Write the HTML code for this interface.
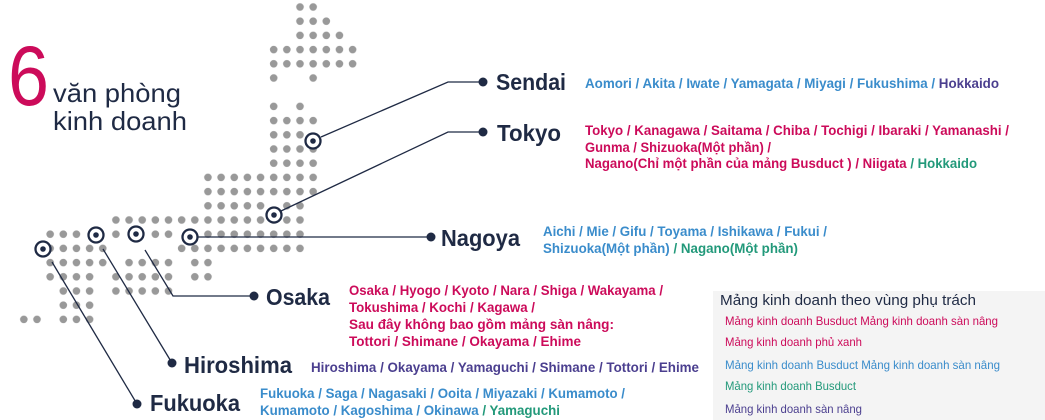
<!DOCTYPE html>
<html><head><meta charset="utf-8"><style>
html,body{margin:0;padding:0;background:#fff;}
svg{display:block;}
text{font-family:"Liberation Sans",sans-serif;}
.n{fill:#1f2a44;font-size:23px;font-weight:bold;}
.l{font-size:13.5px;font-weight:bold;}
.p{fill:#cc0b5a}.b{fill:#3a8ccb}.v{fill:#4b3f8f}.g{fill:#22997a}
.lg{font-size:12px;}
</style></head><body>
<svg width="1045" height="420" viewBox="0 0 1045 420" xmlns="http://www.w3.org/2000/svg">
<defs>
<pattern id="dp" patternUnits="userSpaceOnUse" x="-9.025" y="-0.1" width="13.15" height="14.2">
<circle cx="6.575" cy="7.1" r="3.8" fill="#999"/>
</pattern>
</defs>
<g fill="url(#dp)">
<rect x="293.4" y="-0.1" width="26.3" height="14.2"/>
<rect x="293.4" y="14.1" width="39.45" height="14.2"/>
<rect x="293.4" y="28.3" width="52.6" height="14.2"/>
<rect x="267.1" y="42.5" width="92.05" height="14.2"/>
<rect x="267.1" y="56.7" width="92.05" height="14.2"/>
<rect x="267.1" y="70.9" width="13.15" height="14.2"/>
<rect x="306.6" y="70.9" width="13.15" height="14.2"/>
<rect x="267.1" y="99.3" width="13.15" height="14.2"/>
<rect x="293.4" y="99.3" width="13.15" height="14.2"/>
<rect x="267.1" y="113.5" width="52.6" height="14.2"/>
<rect x="267.1" y="127.7" width="39.45" height="14.2"/>
<rect x="267.1" y="141.9" width="52.6" height="14.2"/>
<rect x="267.1" y="156.1" width="52.6" height="14.2"/>
<rect x="201.4" y="170.3" width="118.35" height="14.2"/>
<rect x="201.4" y="184.5" width="118.35" height="14.2"/>
<rect x="201.4" y="198.7" width="65.75" height="14.2"/>
<rect x="280.3" y="198.7" width="26.3" height="14.2"/>
<rect x="109.3" y="212.9" width="197.25" height="14.2"/>
<rect x="43.6" y="227.1" width="39.45" height="14.2"/>
<rect x="109.3" y="227.1" width="13.15" height="14.2"/>
<rect x="148.8" y="227.1" width="26.3" height="14.2"/>
<rect x="201.4" y="227.1" width="105.2" height="14.2"/>
<rect x="43.6" y="241.3" width="65.75" height="14.2"/>
<rect x="175.1" y="241.3" width="131.5" height="14.2"/>
<rect x="43.6" y="255.5" width="65.75" height="14.2"/>
<rect x="122.5" y="255.5" width="52.6" height="14.2"/>
<rect x="188.3" y="255.5" width="26.3" height="14.2"/>
<rect x="43.6" y="269.7" width="52.6" height="14.2"/>
<rect x="109.3" y="269.7" width="65.75" height="14.2"/>
<rect x="188.3" y="269.7" width="26.3" height="14.2"/>
<rect x="56.8" y="283.9" width="39.45" height="14.2"/>
<rect x="109.3" y="283.9" width="65.75" height="14.2"/>
<rect x="56.8" y="298.1" width="39.45" height="14.2"/>
<rect x="17.3" y="312.3" width="26.3" height="14.2"/>
<rect x="56.8" y="312.3" width="39.45" height="14.2"/>
</g>
<g stroke="#1f2a44" stroke-width="1.3" fill="none">
<polyline points="321,137 448,82 483,82"/>
<polyline points="281,211 448,132 483,132"/>
<polyline points="198,237 431,237"/>
<polyline points="145,250 173,296 254,296"/>
<polyline points="103,249 172,363"/>
<polyline points="52,262 137,404"/>
</g>
<g fill="#1f2a44">
<circle cx="483" cy="82" r="4.5"/><circle cx="483" cy="132" r="4.5"/><circle cx="431" cy="237" r="4.5"/>
<circle cx="254" cy="296" r="4.5"/><circle cx="172" cy="363" r="4.5"/><circle cx="137" cy="404" r="4.5"/>
</g>
<g fill="#fff" stroke="#1f2a44" stroke-width="2.3">
<circle cx="313" cy="141" r="7.5"/><circle cx="274" cy="215" r="7.5"/><circle cx="190" cy="237" r="7.5"/>
<circle cx="136" cy="234" r="7.5"/><circle cx="96" cy="235" r="7.5"/><circle cx="43" cy="249" r="7.5"/>
</g>
<g fill="#1f2a44">
<circle cx="313" cy="141" r="2.8"/><circle cx="274" cy="215" r="2.8"/><circle cx="190" cy="237" r="2.8"/>
<circle cx="136" cy="234" r="2.8"/><circle cx="96" cy="235" r="2.8"/><circle cx="43" cy="249" r="2.8"/>
</g>

<text x="8" y="105" fill="#cc0b5a" font-size="84" textLength="41" lengthAdjust="spacingAndGlyphs">6</text>
<text x="53" y="102" fill="#1f2a44" font-size="26" textLength="128" lengthAdjust="spacingAndGlyphs">văn phòng</text>
<text x="53" y="130" fill="#1f2a44" font-size="26" textLength="134" lengthAdjust="spacingAndGlyphs">kinh doanh</text>

<text class="n" x="496" y="90" textLength="70" lengthAdjust="spacingAndGlyphs">Sendai</text>
<text class="n" x="497" y="141" textLength="64" lengthAdjust="spacingAndGlyphs">Tokyo</text>
<text class="n" x="441" y="246" textLength="79" lengthAdjust="spacingAndGlyphs">Nagoya</text>
<text class="n" x="266" y="305" textLength="64" lengthAdjust="spacingAndGlyphs">Osaka</text>
<text class="n" x="184" y="373" textLength="108" lengthAdjust="spacingAndGlyphs">Hiroshima</text>
<text class="n" x="150" y="411" textLength="90" lengthAdjust="spacingAndGlyphs">Fukuoka</text>

<text class="l b" x="585" y="88" textLength="414" lengthAdjust="spacingAndGlyphs">Aomori / Akita / Iwate / Yamagata / Miyagi / Fukushima / <tspan class="v">Hokkaido</tspan></text>
<text class="l p" x="585" y="135" textLength="424" lengthAdjust="spacingAndGlyphs">Tokyo / Kanagawa / Saitama / Chiba / Tochigi / Ibaraki / Yamanashi /</text>
<text class="l p" x="585" y="152" textLength="186" lengthAdjust="spacingAndGlyphs">Gunma / Shizuoka(Một phần) /</text>
<text class="l p" x="585" y="168" textLength="392" lengthAdjust="spacingAndGlyphs">Nagano(Chỉ một phần của mảng Busduct ) / Niigata <tspan class="g">/ Hokkaido</tspan></text>
<text class="l b" x="543" y="236" textLength="284" lengthAdjust="spacingAndGlyphs">Aichi / Mie / Gifu / Toyama / Ishikawa / Fukui /</text>
<text class="l b" x="543" y="253" textLength="255" lengthAdjust="spacingAndGlyphs">Shizuoka(Một phần) <tspan class="g">/ Nagano(Một phần)</tspan></text>
<text class="l p" x="349" y="295" textLength="314" lengthAdjust="spacingAndGlyphs">Osaka / Hyogo / Kyoto / Nara / Shiga / Wakayama /</text>
<text class="l p" x="349" y="312" textLength="186" lengthAdjust="spacingAndGlyphs">Tokushima / Kochi / Kagawa /</text>
<text class="l p" x="349" y="329" textLength="265" lengthAdjust="spacingAndGlyphs">Sau đây không bao gồm mảng sàn nâng:</text>
<text class="l p" x="349" y="346" textLength="232" lengthAdjust="spacingAndGlyphs">Tottori / Shimane / Okayama / Ehime</text>
<text class="l v" x="311" y="372" textLength="388" lengthAdjust="spacingAndGlyphs">Hiroshima / Okayama / Yamaguchi / Shimane / Tottori / Ehime</text>
<text class="l b" x="260" y="398" textLength="365" lengthAdjust="spacingAndGlyphs">Fukuoka / Saga / Nagasaki / Ooita / Miyazaki / Kumamoto /</text>
<text class="l b" x="260" y="415" textLength="300" lengthAdjust="spacingAndGlyphs">Kumamoto / Kagoshima / Okinawa <tspan class="g">/ Yamaguchi</tspan></text>

<rect x="713" y="291" width="332" height="129" fill="#f4f4f4"/>
<text x="720" y="305" fill="#1f2a44" font-size="14.5" textLength="256" lengthAdjust="spacingAndGlyphs">Mảng kinh doanh theo vùng phụ trách</text>
<text class="lg p" x="725" y="325" textLength="273" lengthAdjust="spacingAndGlyphs">Mảng kinh doanh Busduct  Mảng kinh doanh  sàn nâng</text>
<text class="lg p" x="725" y="346" textLength="137" lengthAdjust="spacingAndGlyphs">Mảng kinh doanh phủ xanh</text>
<text class="lg b" x="725" y="369" textLength="275" lengthAdjust="spacingAndGlyphs">Mảng kinh doanh Busduct  Mảng  kinh doanh  sàn nâng</text>
<text class="lg g" x="725" y="390" textLength="131" lengthAdjust="spacingAndGlyphs">Mảng kinh doanh Busduct</text>
<text class="lg v" x="725" y="413" textLength="137" lengthAdjust="spacingAndGlyphs">Mảng kinh doanh  sàn nâng</text>
</svg>
</body></html>
